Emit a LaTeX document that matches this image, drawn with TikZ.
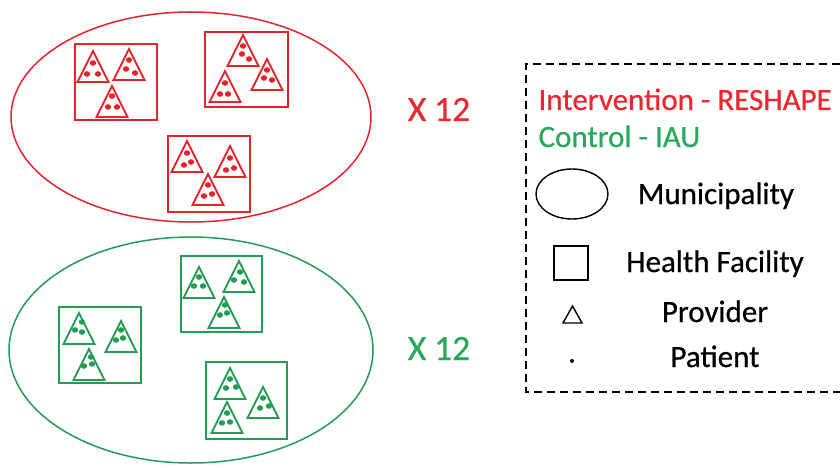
\documentclass[tikz,border=0pt]{standalone}
\usepackage{fontspec}
\setmainfont[FakeBold=0.6,AutoFakeBold=0.6]{Carlito}
\newfontfamily\heavy[FakeBold=0.6]{Carlito}
\definecolor{myred}{RGB}{228,36,44}
\definecolor{mygreen}{RGB}{36,156,84}
\definecolor{txtred}{RGB}{234,40,50}
\definecolor{txtgreen}{RGB}{40,168,90}
\tikzset{
  pics/tri/.style={code={
    \draw[line width=1.8pt, line join=miter] (0,0) -- (-15.5,31) -- (15.5,31) -- cycle;
    \foreach \p in {#1} \fill \p ellipse [x radius=3.2pt, y radius=2.8pt];
  }},
  fac/.style={draw, line width=1.8pt},
  muni/.style={line width=1.5pt},
  lbl/.style={anchor=base, font=\fontsize{31}{34}\selectfont},
  big/.style={anchor=base, font=\fontsize{35.5}{38}\selectfont},
}
\begin{document}
\begin{tikzpicture}[x=1pt,y=-1pt]
\useasboundingbox (0,0) rectangle (840,468);
% ---------- Intervention municipality ----------
\begin{scope}[myred]
\draw[muni] (191,117) ellipse [x radius=180pt, y radius=105pt];
\draw[fac] (75,44) rectangle (157,120);
\pic at (93,51) {tri={(0,12),(-6,23),(5,23)}};
\pic at (129,49) {tri={(0,11),(-3,20),(6,24)}};
\pic at (112,86) {tri={(0,10),(-4,21),(5,21)}};
\draw[fac] (205,32) rectangle (288,107);
\pic at (243,35) {tri={(0,11),(-1,19),(6,24)}};
\pic at (267,59) {tri={(0,11),(-3,19),(5,21)}};
\pic at (225,71) {tri={(0,12),(-5,23),(3,23)}};
\draw[fac] (168,136) rectangle (250,212);
\pic at (187,141) {tri={(0,12),(-3,24),(4,21)}};
\pic at (230,146) {tri={(0,12),(-4,24),(4,22)}};
\pic at (208,174) {tri={(0,11),(-4,22),(4,20)}};
\end{scope}
% ---------- Control municipality ----------
\begin{scope}[mygreen]
\draw[muni] (191,350) ellipse [x radius=182pt, y radius=113pt];
\draw[fac] (59,307) rectangle (141,383);
\pic at (79,313) {tri={(3,9),(-4,17),(3,19)}};
\pic at (121,321) {tri={(0,9),(-5,19),(2,17)}};
\pic at (89,349) {tri={(2,8),(-5,17),(3,15)}};
\draw[fac] (181,256) rectangle (262,332);
\pic at (199,267) {tri={(0,10),(-5,19),(4,19)}};
\pic at (239,261) {tri={(1,11),(-5,19),(5,21)}};
\pic at (224,297) {tri={(1,8),(-4,18),(3,16)}};
\draw[fac] (206,362) rectangle (287,439);
\pic at (230,368) {tri={(0,11),(-4,20),(6,19)}};
\pic at (263,387) {tri={(0,11),(-3,21),(6,19)}};
\pic at (227,402) {tri={(0,11),(-5,21),(3,20)}};
\end{scope}
% ---------- multipliers ----------
\node[big, txtred] (xr) at (439,121) {\heavy X 12};
\node[big, txtgreen] (xg) at (439,360) {\heavy X 12};
% ---------- legend ----------
\draw[line width=1.4pt, dash pattern=on 8pt off 5pt] (840,64) -- (526,64) -- (526,392) -- (840,392);
\node[lbl, anchor=base west, txtred] (lint) at (535,110) {\heavy Intervention - RESHAPE};
\node[lbl, anchor=base west, txtgreen] (lctl) at (535,147) {\heavy Control - IAU};
\draw[line width=1.4pt] (572,194) ellipse [x radius=36pt, y radius=25pt];
\node[lbl] (lmun) at (716,204) {\heavy Municipality};
\draw[line width=1.4pt] (554,246) rectangle (588,280);
\node[lbl] (lhf) at (715,272) {\heavy Health Facility};
\draw[line width=1.4pt, line join=miter] (572.5,306) -- (563,323) -- (582,323) -- cycle;
\node[lbl] (lprov) at (715,322) {\heavy Provider};
\fill (572,361) circle (2pt);
\node[lbl] (lpat) at (715,367) {\heavy Patient};
\end{tikzpicture}
\end{document}
